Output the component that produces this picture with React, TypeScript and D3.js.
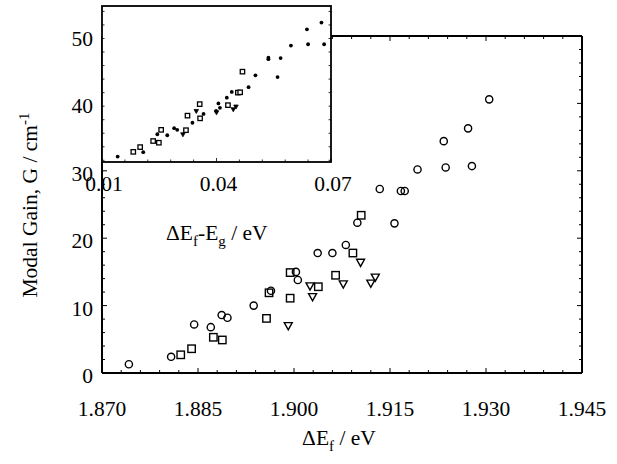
import React from "react";
import * as d3 from "d3";

// main plot: modal gain vs quasi-Fermi level separation (eV, cm^-1)
const circleData: [number, number][] = [
  [1.8742, 1.3], [1.8808, 2.4], [1.8844, 7.2], [1.887, 6.8], [1.8887, 8.6],
  [1.8896, 8.2], [1.8937, 10.0], [1.8964, 12.2], [1.9003, 15.0], [1.9006, 13.8],
  [1.9037, 17.8], [1.906, 17.8], [1.9081, 19.0], [1.9099, 22.3], [1.9134, 27.3],
  [1.9157, 22.2], [1.9167, 27.0], [1.9173, 27.0], [1.9193, 30.2], [1.9234, 34.4],
  [1.9237, 30.5], [1.9272, 36.3], [1.9278, 30.7], [1.9305, 40.6],
];
const squareData: [number, number][] = [
  [1.8823, 2.7], [1.884, 3.6], [1.8874, 5.3], [1.8888, 4.9], [1.8957, 8.1],
  [1.8961, 11.9], [1.8994, 14.9], [1.8994, 11.1], [1.9038, 12.8], [1.9065, 14.5],
  [1.9092, 17.8], [1.9105, 23.4],
];
const triangleData: [number, number][] = [
  [1.8991, 7.0], [1.9025, 12.9], [1.9029, 11.3], [1.9077, 13.2],
  [1.9104, 16.4], [1.912, 13.3], [1.9127, 14.2],
];

// inset: modal gain vs ΔEf - Eg
const insetDots: [number, number][] = [
  [0.0141, 1.1], [0.0208, 2.4], [0.0245, 7.7], [0.0271, 7.4], [0.0289, 9.5],
  [0.0297, 9.0], [0.0337, 11.1], [0.0366, 13.7], [0.0399, 14.6], [0.0405, 16.8],
  [0.0409, 15.5], [0.0427, 18.5], [0.044, 20.2], [0.0484, 21.6], [0.0502, 25.1],
  [0.0536, 30.3], [0.0536, 29.9], [0.056, 24.6], [0.0568, 30.2], [0.0595, 33.9],
  [0.0637, 38.7], [0.064, 34.3], [0.0675, 40.7], [0.0682, 34.3],
];
const insetSquares: [number, number][] = [
  [0.0182, 2.5], [0.02, 3.9], [0.0234, 5.7], [0.0249, 5.2], [0.0255, 9.0],
  [0.032, 8.9], [0.0324, 13.2], [0.0357, 12.4], [0.0356, 16.6], [0.043, 16.3],
  [0.0456, 20.0], [0.0462, 20.1], [0.0468, 26.2],
];
const insetTriangles: [number, number][] = [
  [0.0312, 7.6], [0.0347, 14.5], [0.04, 14.1], [0.0444, 15.0], [0.0451, 15.8],
];

const xTicks = [1.87, 1.885, 1.9, 1.915, 1.93, 1.945];
const yTicks = [0, 10, 20, 30, 40, 50];
const insetXTicks = [0.01, 0.04, 0.07];

const FONT = "'Liberation Serif', 'Times New Roman', serif";
const FS = 21.5; // label font size
const SUB = 15; // sub/superscript size

export default function App() {
  const x = d3.scaleLinear().domain([1.87, 1.945]).range([102, 582]);
  const y = d3.scaleLinear().domain([0, 50]).range([373, 36]);
  const ix = d3.scaleLinear().domain([0.01, 0.07]).range([102, 331]);
  const iy = d3.scaleLinear().domain([-0.5, 45.6]).range([162, 6]);

  const xMinor = d3.range(0, 26).map((i) => 1.87 + i * 0.003);
  const yMinor = d3.range(0, 26).map((i) => i * 2);
  const ixMinor = d3.range(0, 11).map((i) => 0.01 + i * 0.006);
  const iyMinor = d3.range(0, 12).map((i) => i * 4);

  const tri = (cx: number, cy: number, w: number) =>
    `M${cx - w / 2},${cy - w * 0.4}L${cx + w / 2},${cy - w * 0.4}L${cx},${cy + w * 0.5}Z`;

  const [x0, x1] = x.range();
  const [y0, y1] = y.range();
  const [ix0, ix1] = ix.range();
  const [iy0, iy1] = iy.range();

  return (
    <svg
      width={617}
      height={464}
      style={{ position: "absolute", left: 0, top: 0, background: "#fff" }}
      fontFamily={FONT}
    >
      <rect width={617} height={464} fill="#fff" />

      {/* main frame */}
      <g stroke="#000" strokeWidth={2} fill="none">
        <line x1={x0} y1={y0} x2={x1} y2={y0} />
        <line x1={x0} y1={y0} x2={x0} y2={y1} />
        <line x1={x1} y1={y0} x2={x1} y2={y1} />
        <line x1={ix1} y1={y1} x2={x1} y2={y1} />
      </g>

      {/* main ticks */}
      <g stroke="#000" strokeWidth={1}>
        {xMinor.map((v, i) => {
          const len = i % 5 === 0 ? 5 : 3;
          return (
            <g key={"xt" + i}>
              <line x1={x(v)} x2={x(v)} y1={y0} y2={y0 - len} />
              {x(v) > ix1 && <line x1={x(v)} x2={x(v)} y1={y1} y2={y1 + len} />}
            </g>
          );
        })}
        {yMinor.map((v, i) => {
          const len = i % 5 === 0 ? 5 : 3;
          return (
            <g key={"yt" + i}>
              <line x1={x0} x2={x0 + len} y1={y(v)} y2={y(v)} />
              <line x1={x1} x2={x1 - len} y1={y(v)} y2={y(v)} />
            </g>
          );
        })}
      </g>

      {/* main data */}
      <g fill="none" stroke="#000" strokeWidth={1.4}>
        {circleData.map((d, i) => (
          <circle key={"c" + i} cx={x(d[0])} cy={y(d[1])} r={3.6} />
        ))}
        {squareData.map((d, i) => (
          <rect key={"s" + i} x={x(d[0]) - 3.7} y={y(d[1]) - 3.7} width={7.4} height={7.4} />
        ))}
        {triangleData.map((d, i) => (
          <path key={"t" + i} d={tri(x(d[0]), y(d[1]), 8)} />
        ))}
      </g>

      {/* inset */}
      <rect x={ix0} y={iy1} width={ix1 - ix0} height={iy0 - iy1} fill="#fff" stroke="#000" strokeWidth={1.8} />
      <g stroke="#000" strokeWidth={0.8}>
        {ixMinor.map((v, i) => (
          <line key={"ixt" + i} x1={ix(v)} x2={ix(v)} y1={iy0} y2={iy0 - (i % 5 === 0 ? 4 : 2.5)} />
        ))}
        {iyMinor.map((v, i) => (
          <g key={"iyt" + i}>
            <line x1={ix0} x2={ix0 + 2.5} y1={iy(v)} y2={iy(v)} />
            <line x1={ix1} x2={ix1 - 2.5} y1={iy(v)} y2={iy(v)} />
          </g>
        ))}
      </g>
      <g>
        {insetDots.map((d, i) => (
          <circle key={"id" + i} cx={ix(d[0])} cy={iy(d[1])} r={1.9} fill="#000" />
        ))}
        {insetSquares.map((d, i) => (
          <rect
            key={"is" + i}
            x={ix(d[0]) - 2.2}
            y={iy(d[1]) - 2.2}
            width={4.4}
            height={4.4}
            fill="#fff"
            stroke="#000"
            strokeWidth={1.3}
          />
        ))}
        {insetTriangles.map((d, i) => (
          <path key={"it" + i} d={tri(ix(d[0]), iy(d[1]), 4.5)} fill="#000" stroke="#000" strokeWidth={0.8} />
        ))}
      </g>

      {/* tick labels */}
      <g fontSize={FS} fill="#000">
        {xTicks.map((v) => (
          <text key={"xl" + v} x={x(v)} y={416} textAnchor="middle">
            {v.toFixed(3)}
          </text>
        ))}
        {yTicks.map((v) => (
          <text key={"yl" + v} x={93} y={y(v) + 10} textAnchor="end">
            {v}
          </text>
        ))}
        {insetXTicks.map((v) => (
          <text key={"il" + v} x={ix(v) + 2} y={191} textAnchor="middle">
            {v.toFixed(2)}
          </text>
        ))}
      </g>

      {/* axis titles */}
      <g fontSize={FS} fill="#000">
        <text x={339} y={445} textAnchor="middle">
          ΔE<tspan fontSize={SUB} dy={6}>f</tspan>
          <tspan dy={-6}> / eV</tspan>
        </text>
        <text x={166} y={240}>
          ΔE<tspan fontSize={SUB} dy={6}>f</tspan>
          <tspan dy={-6}>-E</tspan>
          <tspan fontSize={SUB} dy={6}>g</tspan>
          <tspan dy={-6}> / eV</tspan>
        </text>
        <text transform="translate(37,205) rotate(-90)" textAnchor="middle">
          Modal Gain, G / cm<tspan fontSize={SUB} dy={-8}>-1</tspan>
        </text>
      </g>
    </svg>
  );
}
